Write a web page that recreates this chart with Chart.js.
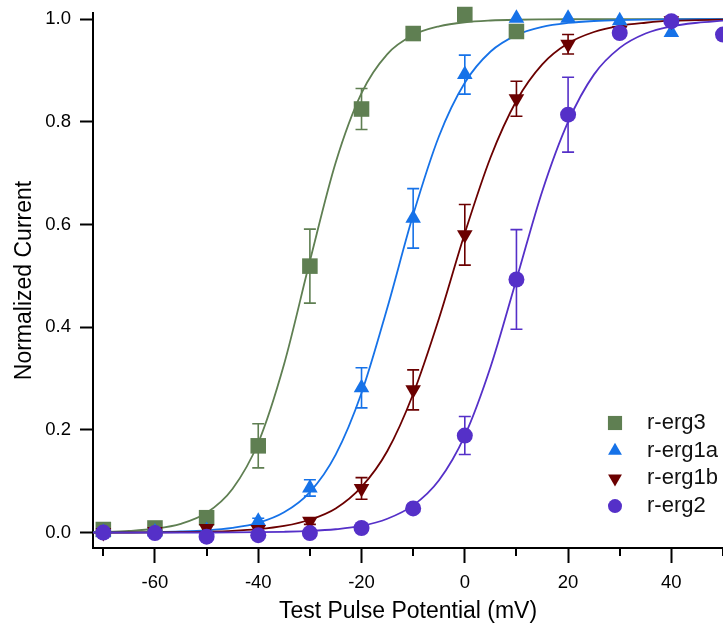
<!DOCTYPE html>
<html>
<head>
<meta charset="utf-8">
<title>Normalized Current vs Test Pulse Potential</title>
<script src="https://cdn.jsdelivr.net/npm/chart.js@4.4.1/dist/chart.umd.min.js"></script>
<style>
  html, body { margin: 0; padding: 0; background: #fff; }
  #wrap { width: 723px; height: 626px; }
</style>
</head>
<body>
<div id="wrap"><canvas id="chart" width="723" height="626"></canvas></div>
<script>
// Axis ticks
const xTicks = [-60, -40, -20, 0, 20, 40];
const xMinorTicks = [-70, -50, -30, -10, 10, 30, 50];
const yTicks = [0.0, 0.2, 0.4, 0.6, 0.8, 1.0];

// Series names and colours (legend order)
const seriesNames = ["r-erg3", "r-erg1a", "r-erg1b", "r-erg2"];
const seriesColors = ["#5f7f52", "#1672e8", "#6b0000", "#5530c8"];

// Measured points (mean +/- error)
const erg3V = [-70, -60, -50, -40, -30, -20, -10, 0, 10];
const erg3I = [0.006, 0.009, 0.029, 0.169, 0.519, 0.825, 0.972, 1.009, 0.976];
const erg3Err = [0, 0, 0, 0.043, 0.072, 0.040, 0, 0, 0];

const erg1aV = [-70, -60, -50, -40, -30, -20, -10, 0, 10, 20, 30, 40];
const erg1aI = [0.000, 0.001, 0.004, 0.022, 0.087, 0.282, 0.612, 0.892, 1.002, 1.002, 0.997, 0.974];
const erg1aErr = [0, 0, 0, 0.006, 0.016, 0.039, 0.058, 0.038, 0, 0, 0, 0];

const erg1bV = [-70, -60, -50, -40, -30, -20, -10, 0, 10, 20, 30, 40];
const erg1bI = [0.000, 0.002, 0.008, 0.006, 0.022, 0.086, 0.278, 0.580, 0.845, 0.951, 0.978, 0.997];
const erg1bErr = [0, 0, 0, 0, 0.006, 0.021, 0.039, 0.059, 0.034, 0.019, 0, 0];

const erg2V = [-70, -60, -50, -40, -30, -20, -10, 0, 10, 20, 30, 40, 50];
const erg2I = [0.000, -0.001, -0.008, -0.005, -0.001, 0.009, 0.047, 0.189, 0.493, 0.814, 0.973, 0.996, 0.970];
const erg2Err = [0, 0, 0, 0, 0, 0, 0, 0.037, 0.097, 0.073, 0, 0, 0];

// Fitted curves
const fitV = [-72, -70, -65, -60, -55, -50, -45, -40, -35, -30, -25, -20, -15, -10, -5, 0, 5, 10, 15, 20, 25, 30, 35, 40, 45, 50];
const erg3Fit = [0.001, 0.0014, 0.0033, 0.0075, 0.017, 0.0385, 0.085, 0.175, 0.328, 0.529, 0.721, 0.856, 0.932, 0.969, 0.986, 0.994, 0.9974, 0.9989, 0.9995, 0.9998, 0.9999, 1.0, 1.0, 1.0, 1.0, 1.0];
const erg1aFit = [0.0002, 0.0002, 0.0005, 0.001, 0.0022, 0.0045, 0.0093, 0.019, 0.0395, 0.079, 0.152, 0.272, 0.438, 0.619, 0.772, 0.876, 0.937, 0.969, 0.985, 0.9926, 0.9964, 0.9983, 0.9992, 0.9996, 0.9998, 0.9999];
const erg1bFit = [0.0001, 0.0001, 0.0002, 0.0005, 0.0009, 0.0018, 0.0034, 0.0067, 0.013, 0.025, 0.047, 0.089, 0.159, 0.27, 0.417, 0.583, 0.731, 0.841, 0.912, 0.953, 0.975, 0.987, 0.993, 0.997, 0.998, 0.999];
const erg2Fit = [0.0, 0.0, 0.0, 0.0, 0.0001, 0.0002, 0.0004, 0.0008, 0.0016, 0.0032, 0.0065, 0.013, 0.027, 0.053, 0.102, 0.189, 0.323, 0.493, 0.665, 0.80, 0.892, 0.944, 0.972, 0.986, 0.993, 0.997];

const FONT = "'Liberation Sans', Arial, Helvetica, sans-serif";

function toPoints(xs, ys, errs) {
  return xs.map((x, i) => ({ x: x, y: ys[i], err: errs ? errs[i] : 0 }));
}

// marker look per series
const markers = [
  { pointStyle: "rect", radius: 11, rotation: 0 },
  { pointStyle: "triangle", radius: 9, rotation: 0 },
  { pointStyle: "triangle", radius: 9, rotation: 180 },
  { pointStyle: "circle", radius: 8, rotation: 0 },
];

const pointSets = [
  toPoints(erg3V, erg3I, erg3Err),
  toPoints(erg1aV, erg1aI, erg1aErr),
  toPoints(erg1bV, erg1bI, erg1bErr),
  toPoints(erg2V, erg2I, erg2Err),
];
const fitSets = [erg3Fit, erg1aFit, erg1bFit, erg2Fit];

const datasets = [];

// fit lines first (drawn below markers)
fitSets.forEach((fit, i) => {
  datasets.push({
    label: seriesNames[i] + " fit",
    data: toPoints(fitV, fit),
    showLine: true,
    borderColor: seriesColors[i],
    borderWidth: 1.8,
    pointRadius: 0,
    cubicInterpolationMode: "monotone",
    fill: false,
    order: 20 - i,
    isFit: true,
  });
});

// markers: later series on top
pointSets.forEach((pts, i) => {
  datasets.push({
    label: seriesNames[i],
    data: pts,
    showLine: false,
    backgroundColor: seriesColors[i],
    borderColor: seriesColors[i],
    pointStyle: markers[i].pointStyle,
    pointRadius: markers[i].radius,
    pointRotation: markers[i].rotation,
    pointBorderWidth: 0,
    clip: false,
    order: 4 - i,
    errColor: seriesColors[i],
  });
});

// Error bars under the markers
const errorBars = {
  id: "errorBars",
  beforeDatasetsDraw(chart) {
    const ctx = chart.ctx;
    const xs = chart.scales.x, ys = chart.scales.y;
    ctx.save();
    ctx.lineWidth = 1.6;
    chart.data.datasets.forEach((ds) => {
      if (ds.isFit) return;
      ctx.strokeStyle = ds.errColor;
      ds.data.forEach((p) => {
        if (!p.err) return;
        const px = xs.getPixelForValue(p.x);
        const top = ys.getPixelForValue(p.y + p.err);
        const bot = ys.getPixelForValue(p.y - p.err);
        ctx.beginPath();
        ctx.moveTo(px, top); ctx.lineTo(px, bot);
        ctx.moveTo(px - 6, top); ctx.lineTo(px + 6, top);
        ctx.moveTo(px - 6, bot); ctx.lineTo(px + 6, bot);
        ctx.stroke();
      });
    });
    ctx.restore();
  },
};

// Minor x ticks and the in-plot legend
const extras = {
  id: "extras",
  afterDraw(chart) {
    const ctx = chart.ctx;
    const xs = chart.scales.x;
    const bottom = chart.chartArea.bottom;
    ctx.save();
    ctx.strokeStyle = "#000";
    ctx.lineWidth = 2;
    xMinorTicks.forEach((v) => {
      const px = Math.round(xs.getPixelForValue(v));
      ctx.beginPath();
      ctx.moveTo(px, bottom);
      ctx.lineTo(px, bottom + 8);
      ctx.stroke();
    });

    // legend
    ctx.font = "22px " + FONT;
    ctx.textBaseline = "middle";
    ctx.textAlign = "left";
    seriesNames.forEach((name, i) => {
      const y = 423 + i * 27.7;
      ctx.fillStyle = seriesColors[i];
      Chart.helpers.drawPoint(ctx, {
        pointStyle: markers[i].pointStyle,
        radius: markers[i].radius - 1,
        rotation: markers[i].rotation,
        borderWidth: 0,
      }, 615, y);
      ctx.fillStyle = "#111";
      ctx.fillText(name, 647, y);
    });
    ctx.restore();
  },
};

const tickFont = { family: FONT, size: 18.5 };
const titleFont = { family: FONT, size: 23 };

new Chart(document.getElementById("chart"), {
  type: "scatter",
  data: { datasets: datasets },
  options: {
    responsive: false,
    devicePixelRatio: 1,
    animation: false,
    events: [],
    layout: { autoPadding: false, padding: { top: 13, left: 0, right: 0, bottom: 0 } },
    plugins: { legend: { display: false }, tooltip: { enabled: false } },
    scales: {
      x: {
        type: "linear",
        min: -72,
        max: 50,
        afterBuildTicks: (s) => { s.ticks = xTicks.map((v) => ({ value: v })); },
        afterFit: (s) => { s.height = 78; s.paddingLeft = 0; s.paddingRight = 0; },
        ticks: { color: "#000", font: tickFont, padding: 9, maxRotation: 0, callback: (v) => String(v) },
        grid: { drawOnChartArea: false, drawTicks: true, tickLength: 15, tickWidth: 2, tickColor: "#000" },
        border: { display: true, width: 2, color: "#000" },
        title: { display: true, text: "Test Pulse Potential (mV)", color: "#000", font: titleFont, padding: { top: 0, bottom: 1 } },
      },
      y: {
        type: "linear",
        min: -0.03,
        max: 1.012,
        afterBuildTicks: (s) => { s.ticks = yTicks.map((v) => ({ value: v })); },
        afterFit: (s) => { s.width = 93; s.paddingTop = 0; s.paddingBottom = 0; },
        ticks: { color: "#000", font: tickFont, padding: 9, callback: (v) => v.toFixed(1) },
        grid: { drawOnChartArea: false, drawTicks: true, tickLength: 13, tickWidth: 2, tickColor: "#000" },
        border: { display: true, width: 2, color: "#000" },
        title: { display: true, text: "Normalized Current", color: "#000", font: titleFont, padding: { top: 11, bottom: 0 } },
      },
    },
  },
  plugins: [errorBars, extras],
});
</script>
</body>
</html>
